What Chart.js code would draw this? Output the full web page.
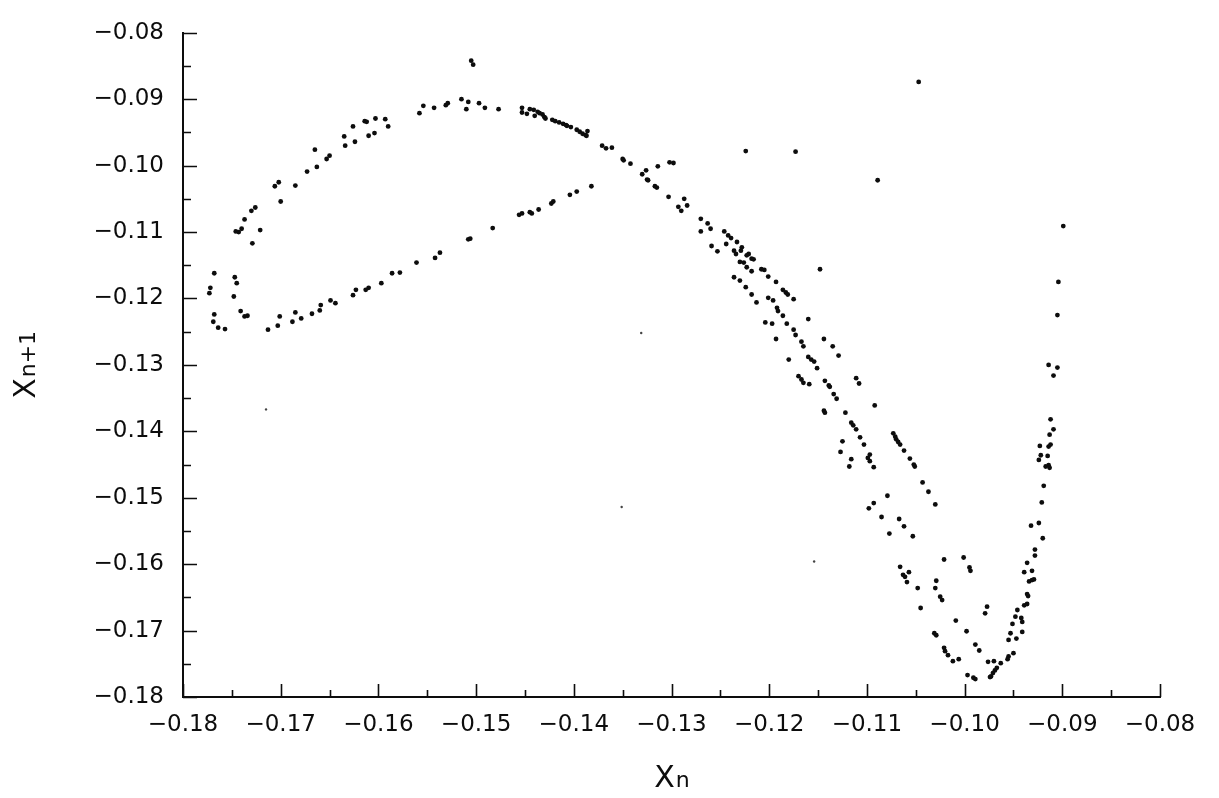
<!DOCTYPE html>
<html>
<head>
<meta charset="utf-8">
<title>Return map</title>
<script src="https://cdn.jsdelivr.net/npm/chart.js@4/dist/chart.umd.min.js"></script>
<style>
  html, body { margin: 0; padding: 0; background: #fff; }
  canvas { display: block; }
</style>
</head>
<body>
<canvas id="returnMap" width="1219" height="798"></canvas>
<script>
// successive maxima: X(n) against X(n+1)
const loopX = [-0.1593, -0.1590, -0.1603, -0.1614, -0.1612, -0.1604, -0.1610, -0.1626, -0.1624, -0.1635,
  -0.1634, -0.1650, -0.1653, -0.1665, -0.1663, -0.1673, -0.1685, -0.1702, -0.1706, -0.1700,
  -0.1726, -0.1730, -0.1737, -0.1740, -0.1743, -0.1746, -0.1721, -0.1729, -0.1768, -0.1772,
  -0.1773, -0.1747, -0.1745, -0.1748, -0.1768, -0.1769, -0.1741, -0.1737, -0.1734, -0.1764,
  -0.1757, -0.1713, -0.1701, -0.1703, -0.1685, -0.1688, -0.1679, -0.1668, -0.1660, -0.1659,
  -0.1649, -0.1644, -0.1626, -0.1623, -0.1613, -0.1610, -0.1597, -0.1586, -0.1578, -0.1561,
  -0.1542, -0.1537, -0.1508, -0.1506, -0.1483, -0.1456, -0.1453, -0.1445, -0.1443, -0.1436,
  -0.1423, -0.1421, -0.1404, -0.1397, -0.1382];
const loopY = [-0.0930, -0.0941, -0.0929, -0.0933, -0.0934, -0.0951, -0.0955, -0.0941, -0.0964, -0.0956,
  -0.0970, -0.0985, -0.0990, -0.0976, -0.1002, -0.1009, -0.1030, -0.1025, -0.1031, -0.1054,
  -0.1063, -0.1068, -0.1081, -0.1095, -0.1100, -0.1099, -0.1097, -0.1117, -0.1162, -0.1184,
  -0.1192, -0.1168, -0.1177, -0.1197, -0.1224, -0.1235, -0.1219, -0.1227, -0.1226, -0.1244,
  -0.1246, -0.1247, -0.1227, -0.1241, -0.1221, -0.1235, -0.1230, -0.1223, -0.1218, -0.1210,
  -0.1203, -0.1207, -0.1195, -0.1187, -0.1187, -0.1184, -0.1177, -0.1162, -0.1161, -0.1146,
  -0.1139, -0.1131, -0.1111, -0.1110, -0.1094, -0.1074, -0.1072, -0.1070, -0.1072, -0.1066,
  -0.1057, -0.1054, -0.1044, -0.1039, -0.1031];

const arcX = [-0.1558, -0.1554, -0.1543, -0.1531, -0.1529, -0.1515, -0.1510, -0.1508, -0.1497, -0.1491,
  -0.1477, -0.1505, -0.1503, -0.1453, -0.1453, -0.1448, -0.1445, -0.1441, -0.1440, -0.1437,
  -0.1435, -0.1432, -0.1430, -0.1429, -0.1422, -0.1419, -0.1415, -0.1411, -0.1408, -0.1407,
  -0.1403, -0.1397, -0.1394, -0.1391, -0.1388, -0.1386, -0.1387, -0.1371, -0.1367, -0.1361,
  -0.1350, -0.1349, -0.1342, -0.1326, -0.1330, -0.1325, -0.1324, -0.1314, -0.1302, -0.1298,
  -0.1317, -0.1315, -0.1303, -0.1287, -0.1284, -0.1293, -0.1290, -0.1224, -0.1173];
const arcY = [-0.0921, -0.0910, -0.0913, -0.0909, -0.0906, -0.0900, -0.0915, -0.0904, -0.0906, -0.0913,
  -0.0915, -0.0842, -0.0848, -0.0913, -0.0920, -0.0922, -0.0915, -0.0916, -0.0925, -0.0919,
  -0.0921, -0.0923, -0.0927, -0.0929, -0.0931, -0.0933, -0.0935, -0.0937, -0.0939, -0.0940,
  -0.0942, -0.0946, -0.0949, -0.0952, -0.0954, -0.0948, -0.0955, -0.0970, -0.0974, -0.0973,
  -0.0990, -0.0992, -0.0997, -0.1007, -0.1013, -0.1021, -0.1022, -0.1001, -0.0995, -0.0996,
  -0.1031, -0.1033, -0.1047, -0.1050, -0.1060, -0.1062, -0.1068, -0.0978, -0.0979];

const fallX = [-0.1270, -0.1263, -0.1270, -0.1260, -0.1259, -0.1253, -0.1246, -0.1242, -0.1239, -0.1233,
  -0.1228, -0.1229, -0.1244, -0.1236, -0.1234, -0.1223, -0.1221, -0.1218, -0.1216, -0.1230,
  -0.1226, -0.1223, -0.1218, -0.1208, -0.1205, -0.1201, -0.1193, -0.1236, -0.1230, -0.1224,
  -0.1218, -0.1213, -0.1186, -0.1183, -0.1181, -0.1175, -0.1201, -0.1196, -0.1192, -0.1191,
  -0.1186, -0.1182, -0.1204, -0.1197, -0.1160, -0.1148, -0.1047, -0.1089, -0.0899, -0.0904,
  -0.0905, -0.1193, -0.1175, -0.1173, -0.1167, -0.1165, -0.1180, -0.1160, -0.1157, -0.1154,
  -0.1151, -0.1170, -0.1167, -0.1165, -0.1159, -0.1144, -0.1135, -0.1129, -0.1143, -0.1139,
  -0.1138, -0.1111, -0.1108, -0.1134, -0.1131, -0.1092, -0.1144, -0.1143, -0.1122, -0.1116,
  -0.1114, -0.1111, -0.1107, -0.1103, -0.1125, -0.1127, -0.1116, -0.1118, -0.1097, -0.1099,
  -0.1097, -0.1093, -0.1073, -0.1071, -0.1070, -0.1068, -0.1066, -0.1062, -0.1056, -0.1052,
  -0.1051, -0.1043, -0.1037, -0.1030, -0.1079, -0.1093, -0.1098, -0.1085, -0.1067, -0.1062,
  -0.1077, -0.1053, -0.1066, -0.1063, -0.1061, -0.1057, -0.1059, -0.1048, -0.1021, -0.1029,
  -0.1030, -0.1025, -0.1023, -0.1045, -0.1001, -0.0995, -0.0994, -0.0977, -0.0979, -0.1009];
const fallY = [-0.1080, -0.1087, -0.1099, -0.1095, -0.1121, -0.1129, -0.1099, -0.1105, -0.1109, -0.1115,
  -0.1123, -0.1128, -0.1118, -0.1128, -0.1133, -0.1135, -0.1133, -0.1140, -0.1141, -0.1145,
  -0.1146, -0.1153, -0.1159, -0.1156, -0.1157, -0.1167, -0.1175, -0.1168, -0.1173, -0.1183,
  -0.1194, -0.1206, -0.1187, -0.1191, -0.1194, -0.1201, -0.1199, -0.1203, -0.1214, -0.1219,
  -0.1226, -0.1238, -0.1236, -0.1238, -0.1231, -0.1156, -0.0874, -0.1022, -0.1091, -0.1175,
  -0.1225, -0.1261, -0.1247, -0.1255, -0.1265, -0.1272, -0.1292, -0.1288, -0.1292, -0.1295,
  -0.1305, -0.1317, -0.1322, -0.1327, -0.1329, -0.1261, -0.1272, -0.1286, -0.1324, -0.1331,
  -0.1333, -0.1320, -0.1328, -0.1344, -0.1351, -0.1361, -0.1369, -0.1372, -0.1372, -0.1387,
  -0.1391, -0.1397, -0.1409, -0.1420, -0.1415, -0.1431, -0.1442, -0.1453, -0.1435, -0.1440,
  -0.1445, -0.1454, -0.1403, -0.1408, -0.1412, -0.1416, -0.1420, -0.1429, -0.1441, -0.1450,
  -0.1453, -0.1477, -0.1491, -0.1510, -0.1497, -0.1508, -0.1516, -0.1529, -0.1532, -0.1543,
  -0.1554, -0.1558, -0.1604, -0.1616, -0.1619, -0.1612, -0.1627, -0.1636, -0.1593, -0.1625,
  -0.1636, -0.1649, -0.1654, -0.1666, -0.1590, -0.1605, -0.1610, -0.1664, -0.1674, -0.1685];

const valleyX = [-0.0912, -0.0909, -0.0913, -0.0914, -0.0912, -0.0923, -0.0922, -0.0924, -0.0915, -0.0917,
  -0.0914, -0.0913, -0.0914, -0.0905, -0.0909, -0.0919, -0.0921, -0.0932, -0.0924, -0.0920,
  -0.0928, -0.0928, -0.0936, -0.0939, -0.0931, -0.0934, -0.0931, -0.0929, -0.0936, -0.0935,
  -0.0939, -0.0936, -0.0946, -0.0948, -0.0942, -0.0941, -0.0951, -0.0998, -0.1031, -0.1029,
  -0.0953, -0.0941, -0.0947, -0.0955, -0.0989, -0.0985, -0.1021, -0.1020, -0.1017, -0.1012,
  -0.1006, -0.0950, -0.0955, -0.0956, -0.0976, -0.0970, -0.0963, -0.0967, -0.0969, -0.0971,
  -0.0973, -0.0974, -0.0997, -0.0991, -0.0989];
const valleyY = [-0.1382, -0.1397, -0.1405, -0.1423, -0.1420, -0.1422, -0.1436, -0.1443, -0.1437, -0.1453,
  -0.1451, -0.1455, -0.1300, -0.1304, -0.1316, -0.1482, -0.1507, -0.1542, -0.1538, -0.1561,
  -0.1578, -0.1587, -0.1598, -0.1612, -0.1610, -0.1626, -0.1624, -0.1623, -0.1645, -0.1648,
  -0.1662, -0.1660, -0.1669, -0.1679, -0.1681, -0.1687, -0.1690, -0.1701, -0.1704, -0.1707,
  -0.1704, -0.1702, -0.1712, -0.1714, -0.1721, -0.1730, -0.1726, -0.1731, -0.1737, -0.1746,
  -0.1743, -0.1734, -0.1739, -0.1743, -0.1747, -0.1746, -0.1749, -0.1756, -0.1760, -0.1764,
  -0.1769, -0.1770, -0.1767, -0.1771, -0.1773];

// a few faint stray points
const strayX = [-0.1715, -0.1331, -0.1351, -0.1154];
const strayY = [-0.1367, -0.1252, -0.1514, -0.1596];

const tickValues = [-0.18, -0.17, -0.16, -0.15, -0.14, -0.13, -0.12, -0.11, -0.10, -0.09, -0.08];

const FONT = "'DejaVu Sans', sans-serif";
const INK = "#0d0d0d";

function pairs(xs, ys) {
  return xs.map((x, i) => ({ x: x, y: ys[i] }));
}

function dotSet(xs, ys, r, color) {
  return {
    data: pairs(xs, ys),
    pointRadius: r,
    pointHoverRadius: r,
    pointBackgroundColor: color,
    pointBorderWidth: 0,
    showLine: false,
  };
}

function tickLabel(v) {
  return v.toFixed(2).replace("-", "\u2212");
}

// inward tick marks, major every 0.01 and minor every 0.005
const innerTicks = {
  id: "innerTicks",
  afterDraw(chart) {
    const { ctx, scales: { x, y } } = chart;
    ctx.save();
    ctx.strokeStyle = INK;
    ctx.lineWidth = 1.6;
    ctx.beginPath();
    for (let i = 0; i <= 20; i++) {
      const v = -0.18 + i * 0.005;
      const major = i % 2 === 0;
      const px = Math.round(x.getPixelForValue(v)) + 0.5;
      ctx.moveTo(px, x.top);
      ctx.lineTo(px, x.top - (major ? 13 : 7));
      const py = Math.round(y.getPixelForValue(v)) + 0.5;
      ctx.moveTo(y.right, py);
      ctx.lineTo(y.right + (major ? 14 : 8), py);
    }
    ctx.stroke();
    ctx.restore();
  },
};

// axis titles with a smaller index part
const axisTitles = {
  id: "axisTitles",
  afterDraw(chart) {
    const { ctx, chartArea } = chart;
    const big = "30px " + FONT;
    const small = "22px " + FONT;
    ctx.save();
    ctx.fillStyle = INK;
    ctx.textBaseline = "alphabetic";
    ctx.textAlign = "left";

    ctx.font = big;
    const wX = ctx.measureText("X").width;
    ctx.font = small;
    const wN = ctx.measureText("n").width;
    let left = (chartArea.left + chartArea.right) / 2 - (wX + wN) / 2;
    ctx.font = big;
    ctx.fillText("X", left, 787);
    ctx.font = small;
    ctx.fillText("n", left + wX + 1, 787);

    ctx.translate(35, (chartArea.top + chartArea.bottom) / 2);
    ctx.rotate(-Math.PI / 2);
    ctx.font = small;
    const wIdx = ctx.measureText("n+1").width;
    left = -(wX + wIdx + 1) / 2;
    ctx.font = big;
    ctx.fillText("X", left, 0);
    ctx.font = small;
    ctx.fillText("n+1", left + wX + 1, 0);
    ctx.restore();
  },
};

const ctx = document.getElementById("returnMap").getContext("2d");
new Chart(ctx, {
  type: "scatter",
  data: {
    datasets: [
      dotSet(loopX, loopY, 2.4, INK),
      dotSet(arcX, arcY, 2.4, INK),
      dotSet(fallX, fallY, 2.4, INK),
      dotSet(valleyX, valleyY, 2.4, INK),
      dotSet(strayX, strayY, 1.2, "#444"),
    ],
  },
  options: {
    responsive: false,
    animation: false,
    devicePixelRatio: 1,
    layout: { padding: { top: 20, right: 59, left: 0, bottom: 0 } },
    plugins: { legend: { display: false }, tooltip: { enabled: false } },
    scales: {
      x: {
        type: "linear",
        min: -0.18,
        max: -0.08,
        afterBuildTicks(scale) {
          scale.ticks = tickValues.map((v) => ({ value: v }));
        },
        afterFit(scale) {
          scale.height = 101;
        },
        grid: { display: false, drawTicks: false },
        border: { display: true, color: INK, width: 2 },
        ticks: {
          callback: tickLabel,
          color: INK,
          font: { family: FONT, size: 23 },
          padding: 14,
          maxRotation: 0,
          autoSkip: false,
        },
      },
      y: {
        type: "linear",
        min: -0.18,
        max: -0.08,
        afterBuildTicks(scale) {
          scale.ticks = tickValues.map((v) => ({ value: v }));
        },
        afterFit(scale) {
          scale.width = 183;
        },
        grid: { display: false, drawTicks: false },
        border: { display: true, color: INK, width: 2 },
        ticks: {
          callback: tickLabel,
          color: INK,
          font: { family: FONT, size: 23 },
          padding: 19,
          autoSkip: false,
        },
      },
    },
  },
  plugins: [innerTicks, axisTitles],
});
</script>
</body>
</html>
